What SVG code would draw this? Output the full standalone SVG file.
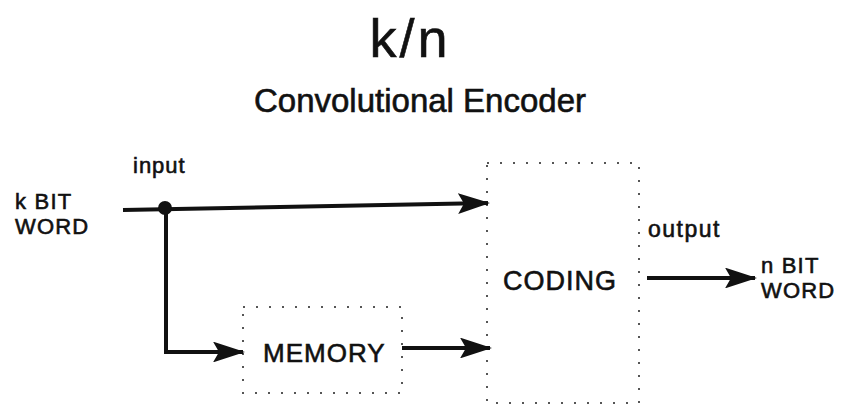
<svg xmlns="http://www.w3.org/2000/svg" width="852" height="412" viewBox="0 0 852 412">
<defs>
<style>
text{font-family:"Liberation Sans",Arial,sans-serif;fill:#111;stroke:#111;stroke-width:0.6}
.box{fill:none;stroke:#555;stroke-width:2;stroke-dasharray:2 11}
.wire{fill:none;stroke:#111;stroke-width:4}
.two{font-size:22px;letter-spacing:1.2px}
</style>
<marker id="ah" markerWidth="8" markerHeight="5.2" refX="7.5" refY="2.6" orient="auto" markerUnits="strokeWidth">
<path d="M0,0 L8,2.6 L0,5.2 L1.5,2.6 Z" fill="#111"/>
</marker>
</defs>
<rect width="852" height="412" fill="#fff"/>
<g id="title">
<text x="410" y="57" font-size="54" text-anchor="middle" letter-spacing="3">k/n</text>
<text x="420" y="112" font-size="33" text-anchor="middle">Convolutional Encoder</text>
</g>
<g id="kbit">
<text class="two" x="15" y="209">k BIT</text>
<text class="two" x="15" y="234">WORD</text>
</g>
<g id="memory">
<rect class="box" x="243" y="307" width="159" height="86"/>
<text x="263" y="362" font-size="26" letter-spacing="1">MEMORY</text>
</g>
<g id="coding">
<rect class="box" x="487" y="163" width="152" height="240"/>
<text x="503" y="290" font-size="27" letter-spacing="1">CODING</text>
</g>
<g id="nbit">
<text class="two" x="761" y="273">n BIT</text>
<text class="two" x="761" y="298">WORD</text>
</g>
<g id="connectors">
<path class="wire" d="M123,210 L488,203" marker-end="url(#ah)"/>
<circle cx="165" cy="208" r="7" fill="#111"/>
<path class="wire" d="M166,208 L166,352 L243,352" marker-end="url(#ah)"/>
<path class="wire" d="M402,348 L490,348" marker-end="url(#ah)"/>
<path class="wire" d="M647,278 L755,278" marker-end="url(#ah)"/>
<text x="133" y="173" font-size="22" letter-spacing="1">input</text>
<text x="648" y="237" font-size="23" letter-spacing="1.5">output</text>
</g>
</svg>
